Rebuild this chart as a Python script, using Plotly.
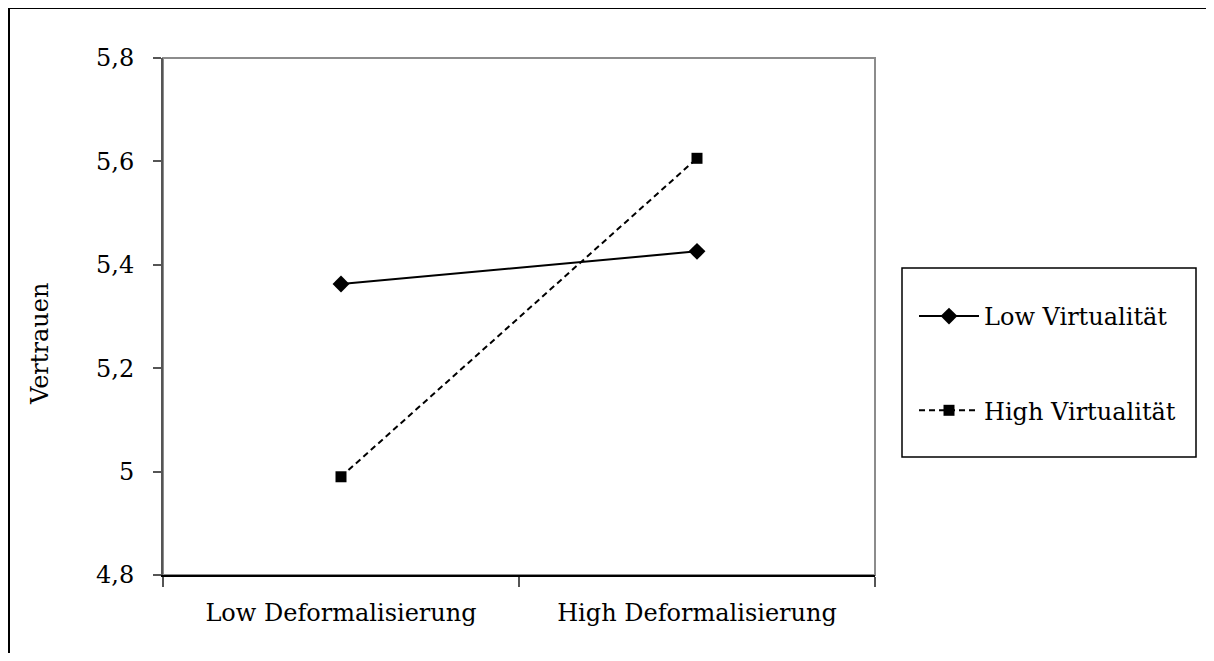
import plotly.graph_objects as go

categories = ["Low Deformalisierung", "High Deformalisierung"]
low_virt = [5.363, 5.426]
high_virt = [4.990, 5.606]
series_names = ["Low Virtualität", "High Virtualität"]
y_ticks = [4.8, 5.0, 5.2, 5.4, 5.6, 5.8]
y_title = "Vertrauen"

FONT = "DejaVu Serif"
FS = 24

OFF = 8  # page body margin
W, H = 1214 - OFF, 661 - 2 * OFF
# plot area in reference screen pixels
PX0, PX1, PY0, PY1 = 163, 875, 58, 575
L, R, T, B = PX0 - OFF, W - (PX1 - OFF), PY0 - OFF, H - (PY1 - OFF)
PW, PH = PX1 - PX0, PY1 - PY0

def px(x):
    return (x - PX0) / PW

def py(y):
    return (PY1 - y) / PH

fig = go.Figure()
fig.add_trace(go.Scatter(
    x=categories, y=low_virt, name=series_names[0], mode="lines+markers",
    line=dict(color="black", width=2),
    marker=dict(symbol="diamond", size=13, color="black"),
    legendgroup="a",
))
fig.add_trace(go.Scatter(
    x=categories, y=high_virt, name=series_names[1], mode="lines+markers",
    line=dict(color="black", width=2, dash="6px,4px"),
    marker=dict(symbol="square", size=11, color="black"),
    legendgroup="b",
))

fig.update_layout(
    width=W, height=H,
    margin=dict(l=L, r=R, t=T, b=B, autoexpand=False),
    paper_bgcolor="white", plot_bgcolor="white",
    separators=",.",
    font=dict(family=FONT, size=FS, color="black"),
    showlegend=True,
    legend=dict(
        x=px(914), y=py(294), xanchor="left", yanchor="top",
        bgcolor="rgba(0,0,0,0)", borderwidth=0,
        tracegroupgap=60, traceorder="grouped", itemwidth=60,
        font=dict(family=FONT, size=FS, color="black"),
    ),
    xaxis=dict(
        type="category", tickson="boundaries", ticks="outside", ticklen=10,
        tickcolor="#555555", tickwidth=1.5,
        showline=True, linecolor="black", linewidth=2,
        showgrid=False, zeroline=False, ticklabelstandoff=15,
        range=[-0.5, 1.5],
    ),
    yaxis=dict(
        range=[4.8, 5.8], tickvals=y_ticks, ticks="outside", ticklen=8,
        tickcolor="#555555", tickwidth=1.5,
        showline=True, linecolor="#555555", linewidth=2,
        showgrid=False, zeroline=False, ticklabelstandoff=14,
    ),
    shapes=[
        dict(type="rect", xref="paper", yref="paper", x0=0, x1=1, y0=0, y1=1,
             line=dict(color="#8c8c8c", width=2), layer="below"),
        dict(type="rect", xref="paper", yref="paper",
             x0=px(902), x1=px(1196), y0=py(457), y1=py(268),
             line=dict(color="black", width=1.5)),
        dict(type="line", xref="paper", yref="paper",
             x0=px(9), x1=px(9), y0=py(700), y1=py(8),
             line=dict(color="black", width=2)),
        dict(type="line", xref="paper", yref="paper",
             x0=px(9), x1=px(1260), y0=py(8), y1=py(8),
             line=dict(color="black", width=2)),
    ],
    annotations=[
        dict(text=y_title, xref="paper", yref="paper", x=px(40), y=py(344),
             textangle=-90, showarrow=False, xanchor="center", yanchor="middle",
             font=dict(family=FONT, size=FS, color="black")),
    ],
)

fig.write_html("out.html")
